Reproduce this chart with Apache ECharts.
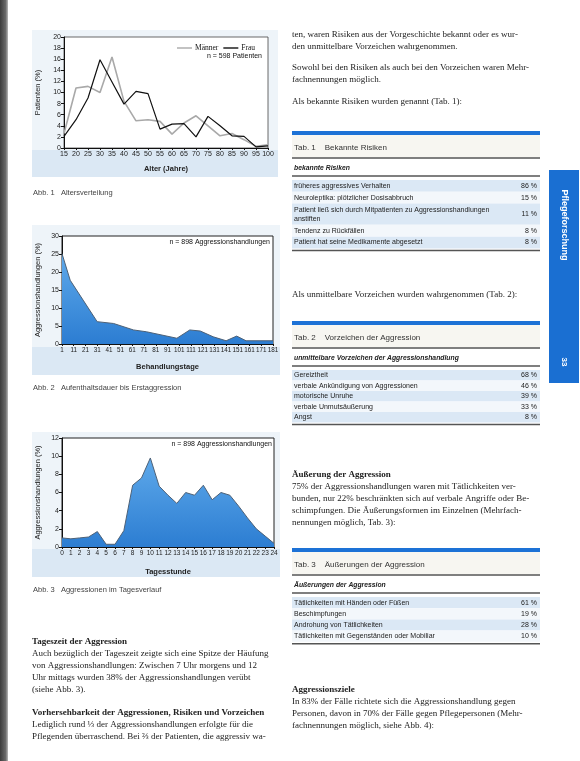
<!DOCTYPE html>
<html><head><meta charset="utf-8">
<script src="https://cdn.jsdelivr.net/npm/echarts@6/dist/echarts.min.js"></script>
<style>html,body{margin:0;padding:0;background:#fff;}#c{width:580px;height:761px;}</style>
</head><body><div id="c"></div>
<script>
// ---------- Data ----------
const ages    = [15,20,25,30,35,40,45,50,55,60,65,70,75,80,85,90,95,100];
const maenner = [2.6,10.8,11.1,10.0,16.4,8.4,4.9,5.1,4.8,2.5,4.5,5.8,4.0,2.2,2.6,1.5,0.3,0.6];
const frauen  = [2.1,5.1,9.0,15.9,11.9,7.9,10.2,9.8,3.4,4.3,4.4,2.0,5.7,4.0,2.2,2.1,0.2,0.4];
const pctTicks1 = [0,2,4,6,8,10,12,14,16,18,20];

const stayDays = [1,8,19,31,45,62,73,99,110,119,130,141,150,158,181];
const stayPct  = [25.1,17.7,12.2,6.2,5.7,3.9,3.4,1.6,3.9,3.6,2.0,0.9,2.2,0.9,0.9];
const dayTicks = [1,11,21,31,41,51,61,71,81,91,101,111,121,131,141,151,161,171,181];
const pctTicks2 = [0,5,10,15,20,25,30];

const hours   = [0,1,2,3,4,5,6,7,8,9,10,11,12,13,14,15,16,17,18,19,20,21,22,23,24];
const hourPct = [1.0,0.9,1.0,1.1,1.7,0.3,0.3,1.8,6.8,7.6,9.8,6.7,5.7,4.8,6.0,5.7,6.8,5.2,6.0,5.7,4.5,3.2,2.0,1.2,0.4];
const pctTicks3 = [0,2,4,6,8,10,12];

const tab1Rows = [["früheres aggressives Verhalten","86 %"],["Neuroleptika: plötzlicher Dosisabbruch","15 %"],["Patient ließ sich durch Mitpatienten zu Aggressionshandlungen\nanstiften","11 %"],["Tendenz zu Rückfällen","8 %"],["Patient hat seine Medikamente abgesetzt","8 %"]];
const tab2Rows = [["Gereiztheit","68 %"],["verbale Ankündigung von Aggressionen","46 %"],["motorische Unruhe","39 %"],["verbale Unmutsäußerung","33 %"],["Angst","8 %"]];
const tab3Rows = [["Tätlichkeiten mit Händen oder Füßen","61 %"],["Beschimpfungen","19 %"],["Androhung von Tätlichkeiten","28 %"],["Tätlichkeiten mit Gegenständen oder Mobiliar","10 %"]];

// ---------- Helpers ----------
const SERIF = '"Liberation Serif", "DejaVu Serif", serif';
const SANS = '"Liberation Sans", Arial, sans-serif';
const NARROW = '"Liberation Sans Narrow", "Liberation Sans", sans-serif';
const zip = (a,b)=>a.map((v,i)=>[v,b[i]]);
const g = [];
function T(x,y,text,font,opt){
  opt = opt||{};
  g.push({type:'text', x:x, y:y, rotation:opt.rot||0, z:10, style:{text:text, font:font, fill:opt.fill||'#222',
    align:opt.align||'left', textAlign:opt.align||'left', verticalAlign:'middle', textVerticalAlign:'middle', lineHeight:opt.lh||9}});
}
function R(x,y,w,h,fill,z){ g.push({type:'rect', z:(z===undefined?-10:z), shape:{x:x,y:y,width:w,height:h}, style:{fill:fill}}); }
function L(x1,y1,x2,y2,color,w){ g.push({type:'line', z:8, shape:{x1:x1,y1:y1,x2:x2,y2:y2}, style:{stroke:color, lineWidth:w}}); }
const body = 'normal 9px '+SERIF, bold = 'bold 9px '+SERIF;

// page edge
g.push({type:'rect', z:-20, shape:{x:0,y:0,width:8,height:761}, style:{fill:new echarts.graphic.LinearGradient(0,0,1,0,[{offset:0,color:'#3c3c3c'},{offset:0.7,color:'#6a6a6a'},{offset:1,color:'#b8b8b8'}])}});

// chart panels
R(32,30,246,147,'#eef4f9'); R(32,150,246,27,'#dbe8f4');
R(32,225,248,150,'#eef4f9'); R(32,347,248,28,'#dbe8f4');
R(32,432,248,145,'#eef4f9'); R(32,549,248,28,'#dbe8f4');
T(33,193,'Abb. 1   Altersverteilung','normal 7.5px '+SANS,{fill:'#444'});
T(33,388,'Abb. 2   Aufenthaltsdauer bis Erstaggression','normal 7.5px '+SANS,{fill:'#444'});
T(33,590,'Abb. 3   Aggressionen im Tagesverlauf','normal 7.5px '+SANS,{fill:'#444'});
T(262,56,'n = 598 Patienten','normal 7px '+NARROW,{align:'right',fill:'#111'});
T(270,242,'n = 898 Aggressionshandlungen','normal 7px '+NARROW,{align:'right',fill:'#111'});
T(272,444,'n = 898 Aggressionshandlungen','normal 7px '+NARROW,{align:'right',fill:'#111'});

// left column text
T(32,642,'Tageszeit der Aggression',bold);
['Auch bezüglich der Tageszeit zeigte sich eine Spitze der Häufung','von Aggressionshandlungen: Zwischen 7 Uhr morgens und 12','Uhr mittags wurden 38% der Aggressionshandlungen verübt','(siehe Abb. 3).'].forEach((s,i)=>T(32,654+12*i,s,body));
T(32,713,'Vorhersehbarkeit der Aggressionen, Risiken und Vorzeichen',bold);
['Lediglich rund ⅓ der Aggressionshandlungen erfolgte für die','Pflegenden überraschend. Bei ⅔ der Patienten, die aggressiv wa-'].forEach((s,i)=>T(32,725+12*i,s,body));

// right column text
['ten, waren Risiken aus der Vorgeschichte bekannt oder es wur-','den unmittelbare Vorzeichen wahrgenommen.'].forEach((s,i)=>T(292,35+12*i,s,body));
['Sowohl bei den Risiken als auch bei den Vorzeichen waren Mehr-','fachnennungen möglich.'].forEach((s,i)=>T(292,68+12*i,s,body));
T(292,102,'Als bekannte Risiken wurden genannt (Tab. 1):',body);
T(292,295,'Als unmittelbare Vorzeichen wurden wahrgenommen (Tab. 2):',body);
T(292,475,'Äußerung der Aggression',bold);
['75% der Aggressionshandlungen waren mit Tätlichkeiten ver-','bunden, nur 22% beschränkten sich auf verbale Angriffe oder Be-','schimpfungen. Die Äußerungsformen im Einzelnen (Mehrfach-','nennungen möglich, Tab. 3):'].forEach((s,i)=>T(292,487+12*i,s,body));
T(292,690,'Aggressionsziele',bold);
['In 83% der Fälle richtete sich die Aggressionshandlung gegen','Personen, davon in 70% der Fälle gegen Pflegepersonen (Mehr-','fachnennungen möglich, siehe Abb. 4):'].forEach((s,i)=>T(292,702+12*i,s,body));

// tables
function table(top, title, head, rows, rowH){
  const x0=292, x1=540;
  R(x0,top,x1-x0,4,'#1d72d6',5);
  R(x0,top+4,x1-x0,22,'#f7f6f1',-5);
  T(x0+2,top+17,title,'normal 8px '+SANS,{fill:'#333'});
  L(x0,top+27,x1,top+27,'#555',1.4);
  T(x0+2,top+37,head,'italic bold 6.8px '+SANS,{fill:'#222'});
  L(x0,top+45,x1,top+45,'#555',1.4);
  let yy = top+49;
  rows.forEach((r,i)=>{
    const h = r[0].indexOf('\n')>=0 ? rowH*1.8 : rowH;
    R(x0,yy,x1-x0,h, i%2===0?'#dbe8f5':'#f3f7fb',-5);
    T(x0+2,yy+h/2,r[0],'normal 7px '+SANS,{fill:'#222',lh:9});
    T(x1-3,yy+h/2,r[1],'normal 7px '+SANS,{fill:'#222',align:'right'});
    yy += h;
  });
  L(x0,yy+2,x1,yy+2,'#555',1.4);
}
table(131,'Tab. 1    Bekannte Risiken','bekannte Risiken',tab1Rows,11.8);
table(321,'Tab. 2    Vorzeichen der Aggression','unmittelbare Vorzeichen der Aggressionshandlung',tab2Rows,10.5);
table(548,'Tab. 3    Äußerungen der Aggression','Äußerungen der Aggression',tab3Rows,11.2);

// side tab
R(549,170,30,213,'#1a6fd2',5);
T(564,225,'Pflegeforschung','bold 9px '+SANS,{fill:'#fff',align:'center',rot:-Math.PI/2});
T(564,362,'33','bold 8px '+SANS,{fill:'#fff',align:'center',rot:-Math.PI/2});

// ---------- Chart ----------
const lbl = {fontSize:7, fontFamily:NARROW, color:'#222', margin:3};
function xAx(gi, min, max, interval, name, gap, fs){
  return {type:'value', gridIndex:gi, min:min, max:max, interval:interval, name:name, nameLocation:'middle', nameGap:gap,
    nameTextStyle:{fontSize:7.5, fontWeight:'bold', fontFamily:SANS, color:'#222'},
    axisLine:{show:true, onZero:false, lineStyle:{color:'#111', width:1}}, axisTick:{show:true, length:2, lineStyle:{color:'#111'}},
    axisLabel:Object.assign({}, lbl, {fontSize:fs||7}), splitLine:{show:false}};
}
function yAx(gi, ticks, name, gap){
  return {type:'value', gridIndex:gi, min:ticks[0], max:ticks[ticks.length-1], interval:ticks[1]-ticks[0], name:name, nameLocation:'middle', nameGap:gap,
    nameTextStyle:{fontSize:7.5, fontFamily:NARROW, color:'#222'},
    axisLine:{show:true, lineStyle:{color:'#111', width:1}}, axisTick:{show:true, length:3, lineStyle:{color:'#111'}},
    axisLabel:lbl, splitLine:{show:false}};
}
const areaFill = new echarts.graphic.LinearGradient(0,0,0,1,[{offset:0,color:'#5ea9ea'},{offset:1,color:'#2c7dd2'}]);

const chart = echarts.init(document.getElementById('c'), null, {renderer:'canvas'});
chart.setOption({
  animation:false,
  backgroundColor:'#ffffff',
  grid:[
    {left:64, top:37, width:204, height:111, show:true, backgroundColor:'#fff', borderColor:'#444', borderWidth:0.8},
    {left:62, top:236, width:211, height:108, show:true, backgroundColor:'#fff', borderColor:'#222', borderWidth:1},
    {left:62, top:438, width:212, height:109, show:true, backgroundColor:'#fff', borderColor:'#222', borderWidth:1}
  ],
  xAxis:[
    xAx(0, ages[0], ages[ages.length-1], ages[1]-ages[0], 'Alter (Jahre)', 17, 7),
    xAx(1, dayTicks[0], dayTicks[dayTicks.length-1], dayTicks[1]-dayTicks[0], 'Behandlungstage', 19, 6.3),
    xAx(2, hours[0], hours[hours.length-1], 1, 'Tagesstunde', 21, 6.5)
  ],
  yAxis:[
    yAx(0, pctTicks1, 'Patienten (%)', 22),
    yAx(1, pctTicks2, 'Aggressionshandlungen (%)', 20),
    yAx(2, pctTicks3, 'Aggressionshandlungen (%)', 20)
  ],
  legend:{data:['Männer','Frau'], left:172, top:39, icon:'rect', itemWidth:15, itemHeight:1.4, itemGap:5,
    textStyle:{fontSize:7.5, fontFamily:SERIF, color:'#111', padding:[0,0,0,-2]}},
  series:[
    {name:'Männer', type:'line', xAxisIndex:0, yAxisIndex:0, data:zip(ages,maenner), symbol:'none', color:'#a9a9a9', lineStyle:{color:'#a9a9a9', width:1.6}},
    {name:'Frau', type:'line', xAxisIndex:0, yAxisIndex:0, data:zip(ages,frauen), symbol:'none', color:'#111', lineStyle:{color:'#111', width:1.2}},
    {name:'Tage', type:'line', xAxisIndex:1, yAxisIndex:1, data:zip(stayDays,stayPct), symbol:'none', lineStyle:{color:'#4d6177', width:1}, areaStyle:{color:areaFill, opacity:1}},
    {name:'Stunde', type:'line', xAxisIndex:2, yAxisIndex:2, data:zip(hours,hourPct), symbol:'none', lineStyle:{color:'#4d6177', width:1}, areaStyle:{color:areaFill, opacity:1}}
  ],
  graphic:{elements:g}
});
</script></body></html>
